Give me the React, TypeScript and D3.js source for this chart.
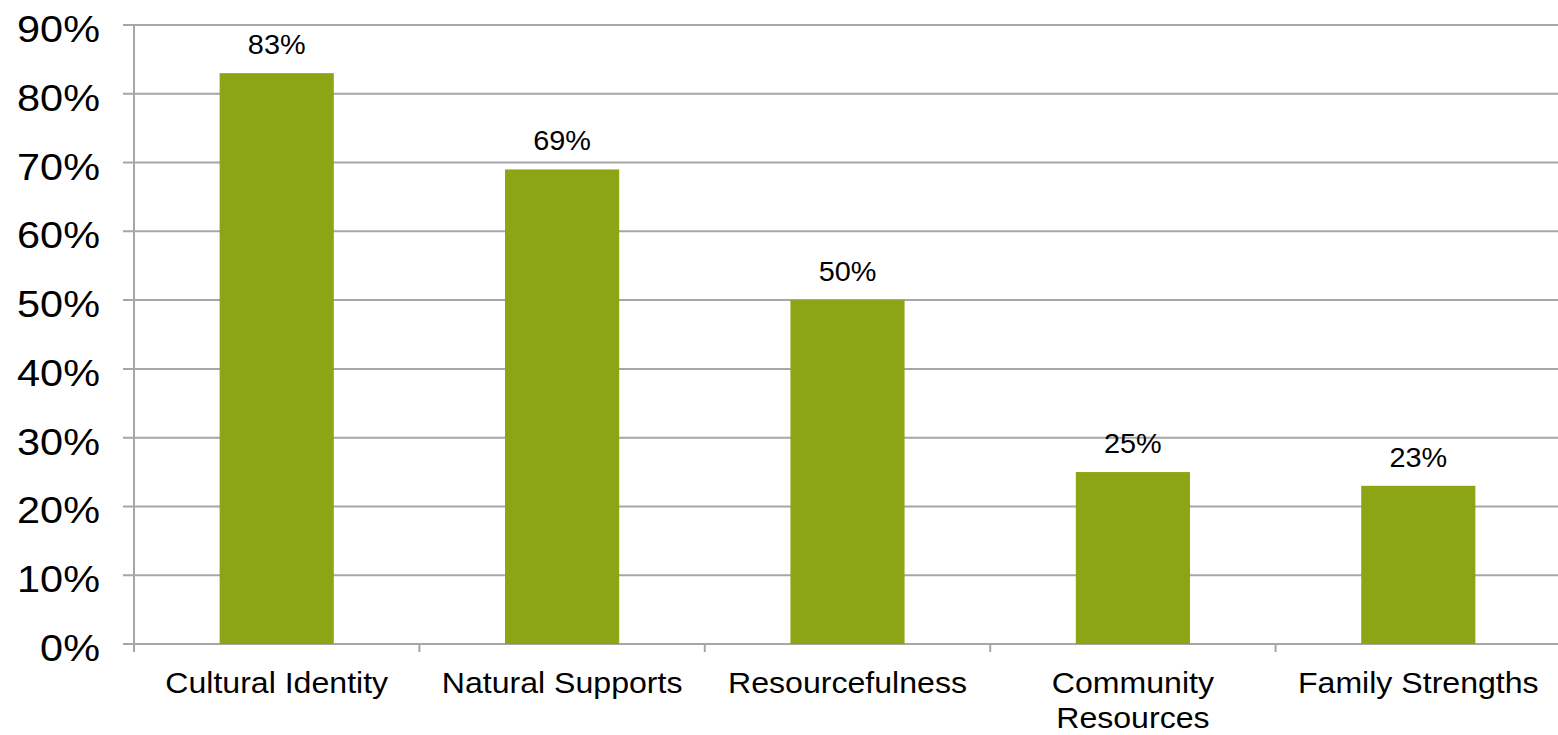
import React from "react";
import * as d3 from "d3";

const categories: string[][] = [
  ["Cultural Identity"],
  ["Natural Supports"],
  ["Resourcefulness"],
  ["Community", "Resources"],
  ["Family Strengths"],
];
const values: number[] = [83, 69, 50, 25, 23];
const yTicks: number[] = [0, 10, 20, 30, 40, 50, 60, 70, 80, 90];

export default function App() {
  const W = 1558, H = 735;
  const left = 134, right = 1561, top = 25, bottom = 644;
  const x = d3.scaleBand<number>().domain(d3.range(values.length)).range([left, right]).paddingInner(0.6).paddingOuter(0.3);
  const xOuter = d3.scaleBand<number>().domain(d3.range(values.length)).range([left, right]);
  const y = d3.scaleLinear().domain([0, 90]).range([bottom, top]);
  const grid = "#a6a6a6";
  const font = "'Liberation Sans', Arial, Helvetica, sans-serif";
  return (
    <svg width={W} height={H} style={{ position: "fixed", left: 0, top: 0, background: "#fff" }} fontFamily={font}>
      {yTicks.map((t) => (
        <g key={t}>
          <line x1={123} x2={W} y1={y(t)} y2={y(t)} stroke={grid} strokeWidth={2} />
          <text transform={`translate(100,${y(t) + 17}) scale(1.12,1)`} textAnchor="end" fontSize={37} fill="#000">{t}%</text>
        </g>
      ))}
      <line x1={left} x2={left} y1={top} y2={bottom + 8} stroke={grid} strokeWidth={2} />
      {d3.range(values.length + 1).map((i) => {
        const xx = i < values.length ? (xOuter(i) as number) : right;
        return <line key={i} x1={xx} x2={xx} y1={bottom} y2={bottom + 8} stroke={grid} strokeWidth={2} />;
      })}
      {values.map((v, i) => {
        const cx = (x(i) as number) + x.bandwidth() / 2;
        return (
          <g key={i}>
            <rect x={x(i)} y={y(v)} width={x.bandwidth()} height={bottom - y(v)} fill="#8ca514" />
            <text transform={`translate(${cx},${y(v) - 19}) scale(1.03,1)`} textAnchor="middle" fontSize={28} fill="#000">{v}%</text>
            {categories[i].map((line, j) => (
              <text key={j} transform={`translate(${cx},${693 + j * 35}) scale(1.07,1)`} textAnchor="middle" fontSize={30} fill="#000">{line}</text>
            ))}
          </g>
        );
      })}
    </svg>
  );
}
